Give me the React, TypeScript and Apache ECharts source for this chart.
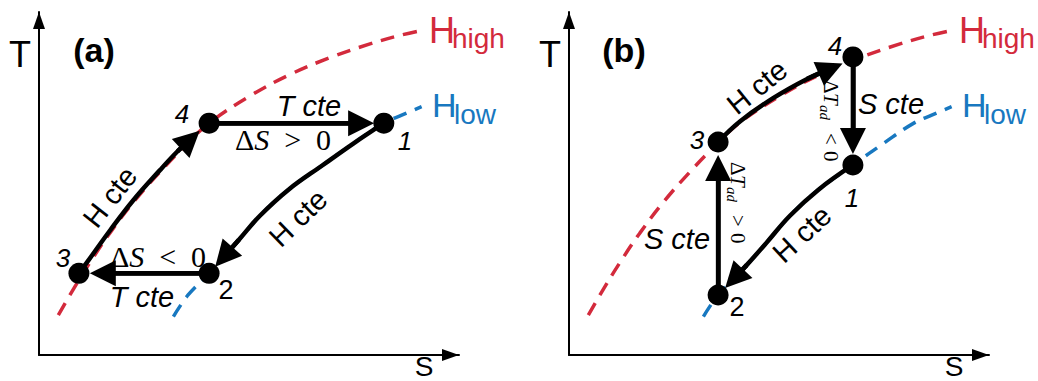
import React, { useEffect, useRef } from "react";
import * as echarts from "echarts";

// ---- data (S, T in arbitrary units, 0–100 on both axes) ----
const hHigh: number[][] = [
  [4.6, 11.6], [8.2, 19.2], [12.1, 26.9], [16.9, 35.6], [22.5, 44.6], [28.8, 53.4],
  [35.5, 61.9], [40.5, 67.6], [50.2, 75.5], [59.8, 81.8], [69.3, 86.7], [78.8, 90.7],
  [86.0, 93.2], [90.7, 94.5],
];
const hLow: number[][] = [
  [32.0, 11.2], [35.5, 17.5], [40.5, 23.8], [46.8, 32.4], [52.6, 40.6], [59.4, 48.2],
  [67.6, 55.4], [75.0, 61.8], [82.1, 67.6], [86.5, 70.0], [91.1, 72.4],
];
// states 1,2,3,4
const statesA: number[][] = [[82.1, 67.6], [40.5, 23.8], [9.5, 23.8], [40.5, 67.6]];
const statesB: number[][] = [[67.6, 55.4], [35.5, 17.5], [35.5, 62.1], [67.6, 86.9]];

// process paths (curved ones follow an isenthalp)
const pathA34: number[][] = [[9.5, 23.8], [12.6, 29.0], [16.9, 36.3], [22.5, 45.2], [28.8, 53.9], [33.0, 59.4], [36.0, 62.8]];
const pathA12: number[][] = [[82.1, 67.6], [75.0, 61.8], [67.6, 55.4], [59.4, 48.2], [52.6, 40.6], [47.6, 33.6], [44.0, 28.6]];
const pathA41: number[][] = [[40.5, 67.6], [76.7, 67.6]];
const pathA23: number[][] = [[40.5, 23.8], [15.2, 23.8]];

const pathB34: number[][] = [[35.5, 62.1], [40.7, 68.1], [48.6, 74.9], [56.7, 80.5], [62.3, 83.5]];
const pathB41: number[][] = [[67.6, 86.9], [67.6, 62.4]];
const pathB12: number[][] = [[67.6, 55.4], [59.4, 48.2], [52.6, 40.6], [46.8, 32.4], [42.3, 26.2], [39.3, 22.3]];
const pathB23: number[][] = [[35.5, 17.5], [35.5, 54.5]];

const stateNames = ["1", "2", "3", "4"];

const RED = "#d32a3c";
const BLUE = "#1878c0";
const SANS = "Liberation Sans, Arial, sans-serif";
const SERIF = "Liberation Serif, Times New Roman, serif";

function makeAxis(gridIndex: number) {
  return {
    type: "value",
    gridIndex,
    min: 0,
    max: 100,
    axisLine: {
      show: true,
      onZero: false,
      symbol: ["none", "triangle"],
      symbolSize: [12, 17],
      symbolOffset: [0, -8.5],
      lineStyle: { color: "#000", width: 2 },
    },
    axisTick: { show: false },
    axisLabel: { show: false },
    splitLine: { show: false },
  };
}

function dashed(data: number[][], color: string, g: number) {
  return {
    type: "line",
    xAxisIndex: g,
    yAxisIndex: g,
    data,
    smooth: 0.4,
    showSymbol: false,
    silent: true,
    z: 1,
    lineStyle: { color, width: 3.5, type: [14, 9] },
  };
}

function curve(data: number[][], g: number) {
  return {
    type: "line",
    xAxisIndex: g,
    yAxisIndex: g,
    data,
    smooth: 0.4,
    showSymbol: false,
    silent: true,
    z: 3,
    lineStyle: { color: "#000", width: 4.5 },
  };
}

function arrows(paths: number[][][], g: number) {
  return {
    type: "lines",
    coordinateSystem: "cartesian2d",
    xAxisIndex: g,
    yAxisIndex: g,
    symbol: ["none", "triangle"],
    symbolSize: [17, 26],
    silent: true,
    z: 4,
    lineStyle: { color: "#000", width: 4.5, opacity: 1 },
    data: paths.map((p) => ({ coords: [p[p.length - 2], p[p.length - 1]] })),
  };
}

function dots(data: number[][], g: number) {
  return {
    type: "scatter",
    xAxisIndex: g,
    yAxisIndex: g,
    data,
    symbolSize: 21,
    silent: true,
    z: 5,
    itemStyle: { color: "#000", opacity: 1 },
  };
}

function txt(x: number, y: number, text: string, size: number, o: any = {}) {
  return {
    type: "text",
    x,
    y,
    rotation: ((o.rot || 0) * Math.PI) / 180,
    z: 100,
    silent: true,
    style: {
      text,
      fill: o.color || "#000",
      fontSize: size,
      fontFamily: o.family || SANS,
      fontStyle: o.italic ? "italic" : "normal",
      fontWeight: o.bold ? "bold" : "normal",
      align: o.align || "center",
      verticalAlign: "middle",
      rich: o.rich,
    },
  };
}

function deltaS(x: number, y: number, rel: string) {
  const base = { fontFamily: SERIF, fontSize: 30, fill: "#000" };
  return txt(x, y, `{a|Δ}{b|S}{a|  ${rel}  0}`, 30, {
    family: SERIF,
    rich: { a: base, b: { ...base, fontStyle: "italic" } },
  });
}

function deltaT(x: number, y: number, rel: string) {
  const s = { fontFamily: SERIF, fill: "#000" };
  return {
    type: "group",
    x,
    y,
    rotation: -Math.PI / 2,
    z: 100,
    silent: true,
    children: [
      { type: "text", x: 0, y: 0, style: { ...s, text: "Δ", fontSize: 21, align: "left", verticalAlign: "middle" } },
      { type: "text", x: 13, y: 0, style: { ...s, text: "T", fontSize: 21, fontStyle: "italic", align: "left", verticalAlign: "middle" } },
      { type: "text", x: 25, y: 6, style: { ...s, text: "ad", fontSize: 15, fontStyle: "italic", align: "left", verticalAlign: "middle" } },
      { type: "text", x: 53, y: 0, style: { ...s, text: rel, fontSize: 21, align: "left", verticalAlign: "middle" } },
      { type: "text", x: 71, y: 0, style: { ...s, text: "0", fontSize: 21, align: "left", verticalAlign: "middle" } },
    ],
  };
}

function panelTexts(dx: number, letter: string) {
  return [
    txt(20 + dx, 54, "T", 36),
    txt(424 + dx, 366, "S", 28),
    txt(94 + dx, 50, letter, 34, { bold: true }),
    txt(429 + dx, 30, "H", 36, { color: RED, align: "left" }),
    txt(452 + dx, 38, "high", 28, { color: RED, align: "left" }),
    txt(432 + dx, 105, "H", 34, { color: BLUE, align: "left" }),
    txt(454 + dx, 114, "low", 28, { color: BLUE, align: "left" }),
  ];
}

export default function App() {
  const ref = useRef<HTMLDivElement>(null);
  useEffect(() => {
    if (!ref.current) return;
    const chart = echarts.init(ref.current, null, { renderer: "svg" });
    const graphic = [
      ...panelTexts(0, "(a)"),
      ...panelTexts(530, "(b)"),
      // panel (a)
      txt(405, 141, stateNames[0], 26, { italic: true }),
      txt(226, 290, stateNames[1], 27),
      txt(63, 258, stateNames[2], 26, { italic: true }),
      txt(182, 114, stateNames[3], 26, { italic: true }),
      txt(309, 106, "T cte", 29, { italic: true }),
      deltaS(283, 139, ">"),
      deltaS(158, 256, "<"),
      txt(142, 297, "T cte", 29, { italic: true }),
      txt(110, 197, "H cte", 29, { rot: 52 }),
      txt(298, 218, "H cte", 29, { rot: 44 }),
      // panel (b)
      txt(852, 198, stateNames[0], 26, { italic: true }),
      txt(737, 307, stateNames[1], 27),
      txt(697, 140, stateNames[2], 26, { italic: true }),
      txt(835, 46, stateNames[3], 26, { italic: true }),
      txt(757, 87, "H cte", 29, { rot: 39 }),
      txt(891, 104, "S cte", 29, { italic: true }),
      txt(677, 239, "S cte", 29, { italic: true }),
      txt(802, 234, "H cte", 29, { rot: 43 }),
      deltaT(831, 80, "<"),
      deltaT(738, 162, ">"),
    ];
    chart.setOption({
      animation: false,
      backgroundColor: "#fff",
      grid: [
        { left: 39, top: 12, width: 420, height: 343 },
        { left: 569, top: 12, width: 420, height: 343 },
      ],
      xAxis: [makeAxis(0), makeAxis(1)],
      yAxis: [makeAxis(0), makeAxis(1)],
      series: [
        dashed(hHigh, RED, 0),
        dashed(hLow, BLUE, 0),
        dashed(hHigh, RED, 1),
        dashed(hLow, BLUE, 1),
        curve(pathA34, 0),
        curve(pathA12, 0),
        curve(pathA41, 0),
        curve(pathA23, 0),
        curve(pathB34, 1),
        curve(pathB41, 1),
        curve(pathB12, 1),
        curve(pathB23, 1),
        arrows([pathA34, pathA12, pathA41, pathA23], 0),
        arrows([pathB34, pathB41, pathB12, pathB23], 1),
        dots(statesA, 0),
        dots(statesB, 1),
      ],
      graphic,
    });
    return () => chart.dispose();
  }, []);
  return (
    <div
      ref={ref}
      style={{ position: "fixed", left: 0, top: 0, width: 1038, height: 381, background: "#fff" }}
    />
  );
}
